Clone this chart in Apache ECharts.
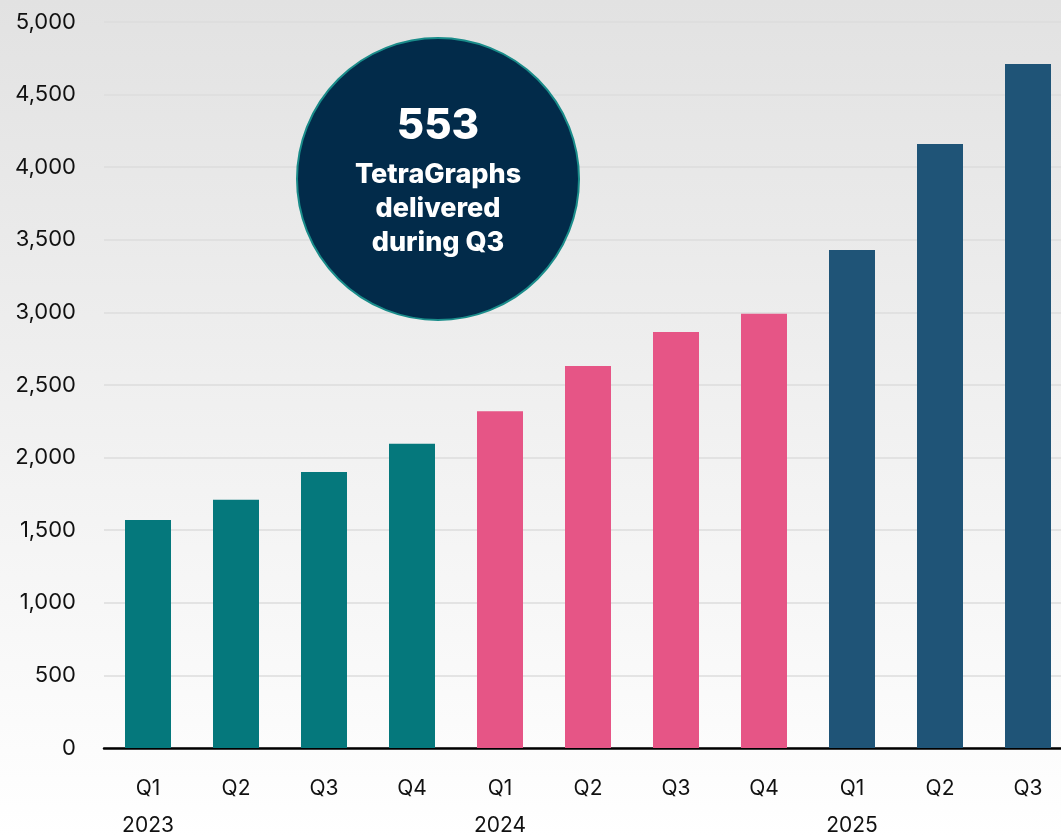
<!DOCTYPE html>
<html>
<head>
<meta charset="utf-8">
<script src="https://cdn.jsdelivr.net/npm/echarts@6/dist/echarts.min.js"></script>
<style>
  html, body { margin: 0; padding: 0; }
  #chart { width: 1061px; height: 837px; }
</style>
</head>
<body>
<div id="chart"></div>
<script>
const quarters = ['Q1', 'Q2', 'Q3', 'Q4', 'Q1', 'Q2', 'Q3', 'Q4', 'Q1', 'Q2', 'Q3'];
const years = ['2023', '', '', '', '2024', '', '', '', '2025', '', ''];
const delivered = [1570, 1710, 1900, 2095, 2320, 2630, 2865, 2990, 3430, 4160, 4710];
const yearOfBar = [2023, 2023, 2023, 2023, 2024, 2024, 2024, 2024, 2025, 2025, 2025];
const yearColors = { 2023: '#05787C', 2024: '#E65586', 2025: '#1F5477' };

const font = 'Inter, "Noto Sans", sans-serif';
const categories = quarters.map((q, i) => years[i] ? q + '\n' + years[i] : q);

const chart = echarts.init(document.getElementById('chart'));
chart.setOption({
    animation: false,
    backgroundColor: new echarts.graphic.LinearGradient(0, 0, 0, 1, [
        { offset: 0, color: '#e2e2e2' },
        { offset: 1, color: '#ffffff' }
    ]),
    grid: {
        left: 104,
        width: 968,
        top: 22,
        bottom: 89,
        containLabel: false,
        outerBoundsMode: 'none'
    },
    xAxis: {
        type: 'category',
        data: categories,
        axisLine: { lineStyle: { color: '#000', width: 2.5 } },
        axisTick: { show: false },
        axisLabel: {
            color: '#111',
            fontFamily: font,
            fontSize: 21,
            lineHeight: 37,
            margin: 22,
            interval: 0
        }
    },
    yAxis: {
        type: 'value',
        min: 0,
        max: 5000,
        interval: 500,
        axisLine: { show: false },
        axisTick: { show: false },
        splitLine: { lineStyle: { color: '#dcdcdc', width: 1.5 } },
        axisLabel: {
            color: '#111',
            fontFamily: font,
            fontSize: 22,
            margin: 28,
            formatter: v => v.toLocaleString('en-US')
        }
    },
    series: [{
        type: 'bar',
        barWidth: 46,
        data: delivered.map((v, i) => ({
            value: v,
            itemStyle: { color: yearColors[yearOfBar[i]] }
        }))
    }],
    graphic: [{
        type: 'circle',
        z: 100,
        shape: { cx: 438, cy: 179, r: 141 },
        style: { fill: '#022B4A', stroke: '#1a8c8a', lineWidth: 2 }
    }, {
        type: 'text',
        z: 101,
        x: 438, y: 126,
        style: {
            text: '553', fill: '#fff', fontFamily: font, fontWeight: 800,
            fontSize: 42, align: 'center', verticalAlign: 'middle'
        }
    }, {
        type: 'text',
        z: 101,
        x: 438, y: 209,
        style: {
            text: 'TetraGraphs\ndelivered\nduring Q3', fill: '#fff', fontFamily: font,
            fontWeight: 800, fontSize: 27, lineHeight: 34,
            align: 'center', verticalAlign: 'middle'
        }
    }]
});
</script>
</body>
</html>
